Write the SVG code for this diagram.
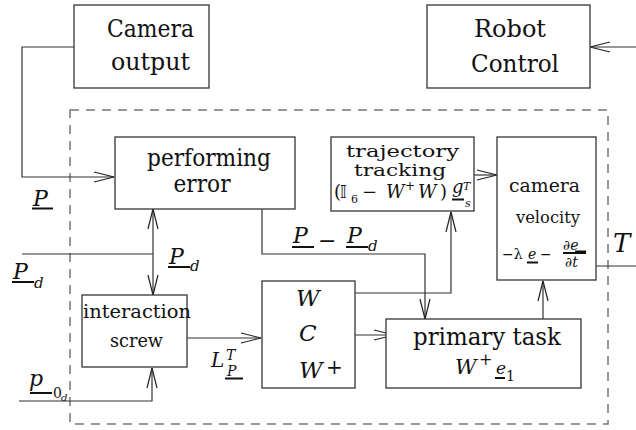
<svg xmlns="http://www.w3.org/2000/svg" width="636" height="430" viewBox="0 0 636 430">
  <style>
    text { font-family: 'DejaVu Serif', 'Liberation Serif', serif; fill: #111; }
    .box { fill: #fff; stroke: #444; stroke-width: 1.4; }
    .frame { fill: none; stroke: #777; stroke-width: 1.5; stroke-dasharray: 9 7; }
    .wire { fill: none; stroke: #333; stroke-width: 1.2; }
    .ul { stroke: #111; stroke-width: 2; }
    .lbl { font-size: 24px; text-anchor: middle; }
    .it { font-style: italic; }
  </style>
  <defs>
    <marker id="head" markerUnits="userSpaceOnUse" markerWidth="24" markerHeight="14" viewBox="-21 -6 24 12" refX="0" refY="0" orient="auto-start-reverse" overflow="visible">
      <path d="M-20,-5 L0,0 L-20,5" fill="none" stroke="#222" stroke-width="1.2"/>
    </marker>
  </defs>

  <!-- controller boundary -->
  <rect class="frame" x="70" y="110" width="538" height="314"/>

  <!-- connectors -->
  <g id="connectors">
    <polyline class="wire" points="74,47 22,47 22,177 114,177" marker-end="url(#head)"/>
    <line class="wire" x1="636" y1="47" x2="590" y2="47" marker-end="url(#head)"/>
    <line class="wire" x1="22" y1="254" x2="153" y2="254"/>
    <line class="wire" x1="153" y1="209" x2="153" y2="295" marker-start="url(#head)" marker-end="url(#head)"/>
    <polyline class="wire" points="19,401 152,401 152,368" marker-end="url(#head)"/>
    <line class="wire" x1="187" y1="338" x2="261" y2="338" marker-end="url(#head)"/>
    <line class="wire" x1="355" y1="335" x2="394" y2="335" marker-end="url(#head)"/>
    <polyline class="wire" points="262,209 262,254 425,254 425,319" marker-end="url(#head)"/>
    <polyline class="wire" points="355,293 451,293 451,212" marker-end="url(#head)"/>
    <line class="wire" x1="474" y1="175" x2="497" y2="175" marker-end="url(#head)"/>
    <line class="wire" x1="543" y1="319" x2="543" y2="281" marker-end="url(#head)"/>
    <line class="wire" x1="596" y1="266" x2="636" y2="266"/>
  </g>

  <!-- Camera output -->
  <g id="camera-output">
    <rect class="box" x="74" y="5" width="135" height="83"/>
    <text class="lbl" x="150.5" y="37" textLength="87" lengthAdjust="spacingAndGlyphs">Camera</text>
    <text class="lbl" x="150.5" y="70" textLength="79" lengthAdjust="spacingAndGlyphs">output</text>
  </g>

  <!-- Robot Control -->
  <g id="robot-control">
    <rect class="box" x="427" y="5" width="163" height="83"/>
    <text class="lbl" x="510" y="37" textLength="72" lengthAdjust="spacingAndGlyphs">Robot</text>
    <text class="lbl" x="515" y="72" textLength="88" lengthAdjust="spacingAndGlyphs">Control</text>
  </g>

  <!-- performing error -->
  <g id="performing-error">
    <rect class="box" x="115" y="137" width="180" height="72"/>
    <text class="lbl" x="209" y="166" textLength="124" lengthAdjust="spacingAndGlyphs">performing</text>
    <text class="lbl" x="202" y="192" textLength="57" lengthAdjust="spacingAndGlyphs">error</text>
  </g>

  <!-- trajectory tracking -->
  <g id="trajectory-tracking">
    <rect class="box" x="331" y="137" width="143" height="74"/>
    <text class="lbl" style="font-size:17px" x="402.5" y="157" textLength="113" lengthAdjust="spacingAndGlyphs">trajectory</text>
    <text class="lbl" style="font-size:17px" x="400" y="176" textLength="92" lengthAdjust="spacingAndGlyphs">tracking</text>
    <text style="font-size:18px" x="334" y="198">(</text>
    <text style="font-size:17px; font-family:'DejaVu Sans','DejaVu Serif',sans-serif" x="340" y="198">𝕀</text>
    <text style="font-size:11px" x="351" y="203">6</text>
    <text style="font-size:18px" x="362" y="198">−</text>
    <text class="it" style="font-size:18px" x="386" y="198">W</text>
    <text style="font-size:12px" x="405" y="190">+</text>
    <text class="it" style="font-size:18px" x="418" y="198">W</text>
    <text style="font-size:18px" x="440" y="198">)</text>
    <text class="it" style="font-size:18px" x="452" y="193">g</text>
    <line class="ul" x1="452" y1="199.5" x2="464" y2="199.5"/>
    <text class="it" style="font-size:11px" x="463" y="190">T</text>
    <text class="it" style="font-size:11px" x="465" y="207">s</text>
  </g>

  <!-- camera velocity -->
  <g id="camera-velocity">
    <rect class="box" x="497" y="137" width="99" height="143"/>
    <text class="lbl" style="font-size:19px" x="544.5" y="192" textLength="71" lengthAdjust="spacingAndGlyphs">camera</text>
    <text class="lbl" style="font-size:16px" x="548" y="223" textLength="64" lengthAdjust="spacingAndGlyphs">velocity</text>
    <text style="font-size:14px" x="502" y="259">−λ</text>
    <text class="it" style="font-size:14px" x="528" y="259">e</text>
    <line class="ul" x1="527" y1="262.5" x2="538" y2="262.5"/>
    <text style="font-size:14px" x="540" y="259">−</text>
    <text style="font-size:14px" x="563" y="250">∂<tspan class="it">e</tspan></text>
    <line class="ul" x1="563" y1="253" x2="586" y2="253"/>
    <line class="ul" x1="575" y1="251.5" x2="586" y2="251.5"/>
    <text style="font-size:14px" x="565" y="267">∂<tspan class="it">t</tspan></text>
  </g>

  <!-- interaction screw -->
  <g id="interaction-screw">
    <rect class="box" x="82" y="295" width="105" height="72"/>
    <text class="lbl" style="font-size:18px" x="137" y="318" textLength="108" lengthAdjust="spacingAndGlyphs">interaction</text>
    <text class="lbl" style="font-size:18px" x="136.5" y="347" textLength="53" lengthAdjust="spacingAndGlyphs">screw</text>
  </g>

  <!-- W C W+ -->
  <g id="weighting">
    <rect class="box" x="262" y="281" width="93" height="107"/>
    <text class="it" style="font-size:23px" x="296" y="306">W</text>
    <text class="it" style="font-size:23px" x="299" y="341">C</text>
    <text class="it" style="font-size:23px" x="299" y="378">W</text>
    <text style="font-size:20px" x="326" y="374">+</text>
  </g>

  <!-- primary task -->
  <g id="primary-task">
    <rect class="box" x="386" y="319" width="195" height="69"/>
    <text class="lbl" x="487" y="345" textLength="148" lengthAdjust="spacingAndGlyphs">primary task</text>
    <text class="it" style="font-size:21px" x="455" y="374">W</text>
    <text style="font-size:16px" x="479" y="365">+</text>
    <text class="it" style="font-size:17px" x="496" y="374">e</text>
    <line class="ul" x1="495" y1="378" x2="505" y2="378"/>
    <text style="font-size:14px" x="506" y="381">1</text>
  </g>

  <!-- signal labels -->
  <g id="labels">
    <text class="it" style="font-size:22px" x="33" y="206">P</text>
    <line class="ul" x1="32" y1="208.5" x2="53" y2="208.5"/>

    <text class="it" style="font-size:22px" x="169" y="264">P</text>
    <line class="ul" x1="168" y1="267" x2="190" y2="267"/>
    <text class="it" style="font-size:15px" x="190" y="271">d</text>

    <text class="it" style="font-size:22px" x="13" y="279">P</text>
    <line class="ul" x1="12" y1="282" x2="34" y2="282"/>
    <text class="it" style="font-size:15px" x="34" y="288">d</text>

    <text class="it" style="font-size:22px" x="293" y="243">P</text>
    <line class="ul" x1="292" y1="247" x2="314" y2="247"/>
    <text style="font-size:22px" x="318" y="248">−</text>
    <text class="it" style="font-size:22px" x="347" y="243">P</text>
    <line class="ul" x1="346" y1="247" x2="368" y2="247"/>
    <text class="it" style="font-size:15px" x="368" y="251">d</text>

    <text class="it" style="font-size:20px" x="211" y="367">L</text>
    <text class="it" style="font-size:14px" x="226" y="360">T</text>
    <text class="it" style="font-size:14px" x="227" y="376">P</text>
    <line class="ul" x1="225" y1="378.5" x2="243" y2="378.5"/>

    <text class="it" style="font-size:22px" x="29" y="386">p</text>
    <line class="ul" x1="30" y1="393" x2="52" y2="393"/>
    <text style="font-size:14px" x="53" y="398">0</text>
    <text class="it" style="font-size:10px" x="61" y="401">d</text>

    <text class="it" style="font-size:26px" x="613" y="252">T</text>
  </g>
</svg>
